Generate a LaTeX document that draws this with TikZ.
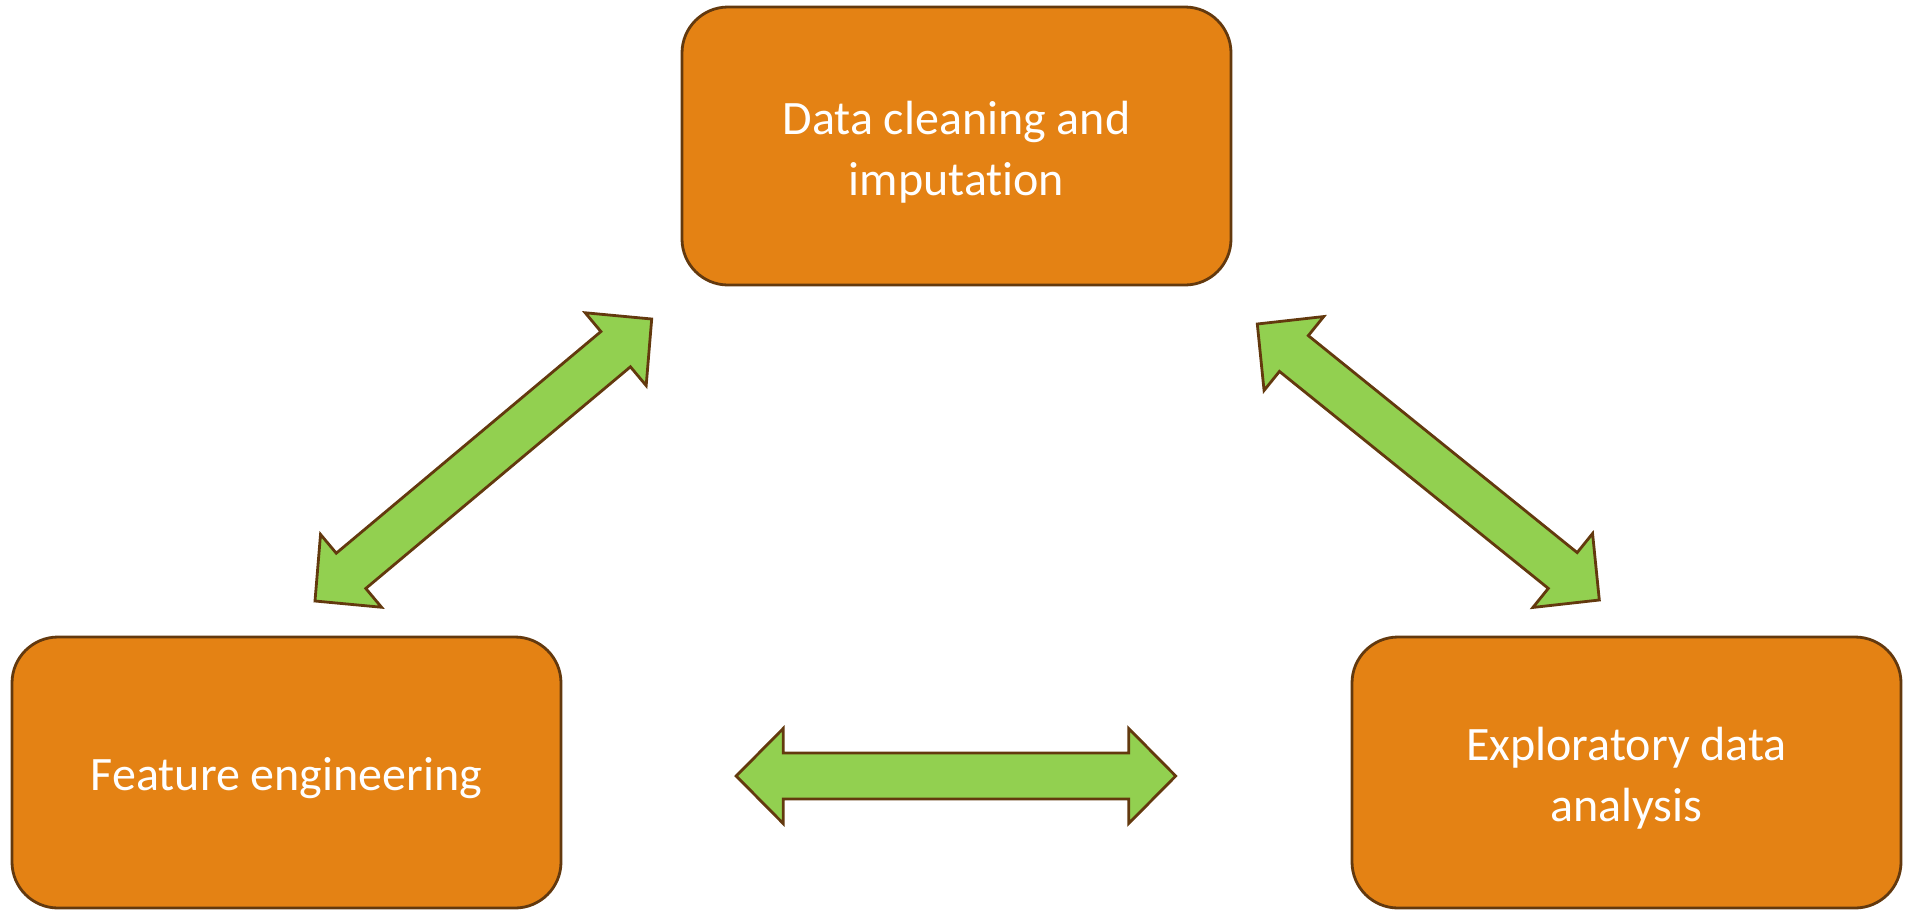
\documentclass[tikz,border=0pt]{standalone}
\usepackage{fontspec}
\setmainfont{Carlito}[Ligatures=CommonOff]
\usetikzlibrary{calc}
\usetikzlibrary{positioning}
\definecolor{stepfill}{RGB}{228,130,20}
\definecolor{rim}{RGB}{99,57,14}
\definecolor{leaf}{RGB}{146,208,80}
\tikzset{x=1pt, y=-1pt,
stage/.style={ % Sets the properties for each box
draw=rim,
line width=2.8pt,
fill=stepfill,
rounded corners=46pt,
minimum width=549pt,
minimum height=271pt},
caption/.style={ % Text inside a box, set a little low
text=white,
align=center,
yshift=-6pt,
font=\fontsize{48}{61}\selectfont},
fat/.style={ % Sets the properties for the big arrows
draw=rim,
line width=2.8pt,
fill=leaf,
line join=miter}}

% big two-headed arrow between two named points
\newcommand{\fatarrow}[2]{
\coordinate (n1) at ($(#1)!47pt!(#2)$);
\coordinate (n2) at ($(#2)!47pt!(#1)$);
\draw[fat] (#1) -- ($(n1)!47.5pt!90:(#2)$) -- ($(n1)!23pt!90:(#2)$)
  -- ($(n2)!23pt!-90:(#1)$) -- ($(n2)!47.5pt!-90:(#1)$) -- (#2)
  -- ($(n2)!47.5pt!90:(#1)$) -- ($(n2)!23pt!90:(#1)$)
  -- ($(n1)!23pt!-90:(#2)$) -- ($(n1)!47.5pt!-90:(#2)$) -- cycle;
}

\begin{document}
\begin{tikzpicture}
\useasboundingbox (0,0) rectangle (1913,916);
\node[stage, minimum height=278pt, label={[caption]center:Data cleaning and\\imputation}] (clean) at (956.5,146) {};
\node[stage, label={[caption]center:Feature engineering}] (feat) at (286.5,772.5) {};
\node[stage, label={[caption]center:Exploratory data\\analysis}] (eda) at (1626.5,772.5) {};

\coordinate (cl) at (651.7,319);
\coordinate (fc) at (315,601);
\coordinate (cr) at (1257.3,324);
\coordinate (ec) at (1599.3,600);
\coordinate (fe) at (736.2,776);
\coordinate (ef) at (1175.7,776);

\fatarrow{cl}{fc}
\fatarrow{cr}{ec}
\fatarrow{fe}{ef}
\end{tikzpicture}
\end{document}
